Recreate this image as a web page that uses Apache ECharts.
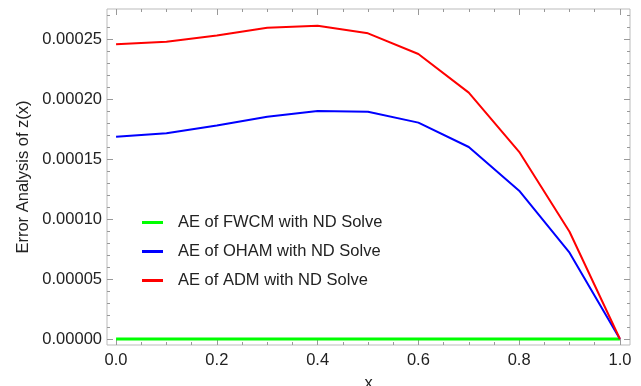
<!DOCTYPE html>
<html>
<head>
<meta charset="utf-8">
<script src="https://cdn.jsdelivr.net/npm/echarts@6/dist/echarts.min.js"></script>
<style>
  html, body { margin: 0; padding: 0; background: #fff; }
  #chart { width: 641px; height: 386px; }
</style>
</head>
<body>
<div id="chart"></div>
<script>
const xValues = [0, 0.1, 0.2, 0.3, 0.4, 0.5, 0.6, 0.7, 0.8, 0.9, 1.0]
const fwcm = [0, 0, 0, 0, 0, 0, 0, 0, 0, 0, 0]
const oham = [0.0001686, 0.0001714, 0.0001780, 0.0001853, 0.0001900, 0.0001894, 0.0001803, 0.0001600, 0.0001236, 0.0000719, 0]
const adm = [0.0002456, 0.0002478, 0.0002530, 0.0002594, 0.0002610, 0.0002547, 0.0002375, 0.0002053, 0.0001560, 0.0000894, 0]
const seriesNames = ['AE of FWCM with ND Solve', 'AE of OHAM with ND Solve', 'AE of ADM with ND Solve']

const xMajor = [0, 0.2, 0.4, 0.6, 0.8, 1.0]
const xMinor = [0.05, 0.1, 0.15, 0.25, 0.3, 0.35, 0.45, 0.5, 0.55, 0.65, 0.7, 0.75, 0.85, 0.9, 0.95]
const yMajor = [0, 0.00005, 0.0001, 0.00015, 0.0002, 0.00025]
const yMinor = [0.00001, 0.00002, 0.00003, 0.00004, 0.00006, 0.00007, 0.00008, 0.00009,
    0.00011, 0.00012, 0.00013, 0.00014, 0.00016, 0.00017, 0.00018, 0.00019,
    0.00021, 0.00022, 0.00023, 0.00024, 0.00026, 0.00027]

const font = 'Liberation Sans, Arial, sans-serif'
const X_MIN = -0.018, X_MAX = 1.02
const Y_MIN = -0.000005, Y_MAX = 0.000275

const pair = (xs, ys) => xs.map((x, i) => [x, ys[i]])

function xAxisOf(position, values, len, labels, extra) {
    return Object.assign({
        type: 'value', position, min: X_MIN, max: X_MAX,
        splitLine: { show: false },
        axisLine: { show: false, onZero: false },
        axisTick: { show: true, inside: true, length: len, customValues: values, lineStyle: { color: '#999' } },
        axisLabel: labels
            ? { show: true, customValues: values, color: '#222', fontSize: 16.5, fontFamily: font, margin: 7, formatter: (v) => v.toFixed(1) }
            : { show: false },
    }, extra || {})
}

function yAxisOf(position, values, len, labels, extra) {
    return Object.assign({
        type: 'value', position, min: Y_MIN, max: Y_MAX,
        splitLine: { show: false },
        axisLine: { show: false, onZero: false },
        axisTick: { show: true, inside: true, length: len, customValues: values, lineStyle: { color: '#999' } },
        axisLabel: labels
            ? { show: true, customValues: values, color: '#222', fontSize: 16.5, fontFamily: font, margin: 5, formatter: (v) => v.toFixed(5) }
            : { show: false },
    }, extra || {})
}

const chart = echarts.init(document.getElementById('chart'), null, { renderer: 'canvas' })

chart.setOption({
    animation: false,
    backgroundColor: '#fff',
    grid: {
        left: 107, right: 11, top: 9, bottom: 41,
        outerBoundsMode: 'none',
        show: true, borderColor: '#bbb', borderWidth: 1, backgroundColor: 'transparent',
    },
    legend: {
        orient: 'vertical',
        left: 137, top: 209,
        itemWidth: 21, itemHeight: 3, itemGap: 12,
        icon: 'rect',
        textStyle: { color: '#222', fontSize: 16.5, fontFamily: font, padding: [0, 0, 0, 10] },
        data: seriesNames,
    },
    xAxis: [
        xAxisOf('bottom', xMajor, 6, true, { name: 'x', nameLocation: 'middle', nameGap: 30,
            nameTextStyle: { color: '#222', fontSize: 16.5, fontFamily: font } }),
        xAxisOf('bottom', xMinor, 3, false),
        xAxisOf('top', xMajor, 6, false),
        xAxisOf('top', xMinor, 3, false),
    ],
    yAxis: [
        yAxisOf('left', yMajor, 6, true, { name: 'Error Analysis of z(x)', nameLocation: 'middle', nameGap: 75,
            nameTextStyle: { color: '#222', fontSize: 16.5, fontFamily: font } }),
        yAxisOf('left', yMinor, 3, false),
        yAxisOf('right', yMajor, 6, false),
        yAxisOf('right', yMinor, 3, false),
    ],
    series: [
        {
            name: seriesNames[0], type: 'line', data: pair(xValues, fwcm),
            showSymbol: false, color: '#00ff00', lineStyle: { width: 3, color: '#00ff00' }, z: 3,
        },
        {
            name: seriesNames[1], type: 'line', data: pair(xValues, oham),
            showSymbol: false, color: '#0000ff', lineStyle: { width: 2, color: '#0000ff' },
        },
        {
            name: seriesNames[2], type: 'line', data: pair(xValues, adm),
            showSymbol: false, color: '#ff0000', lineStyle: { width: 2, color: '#ff0000' },
        },
    ],
})
</script>
</body>
</html>
